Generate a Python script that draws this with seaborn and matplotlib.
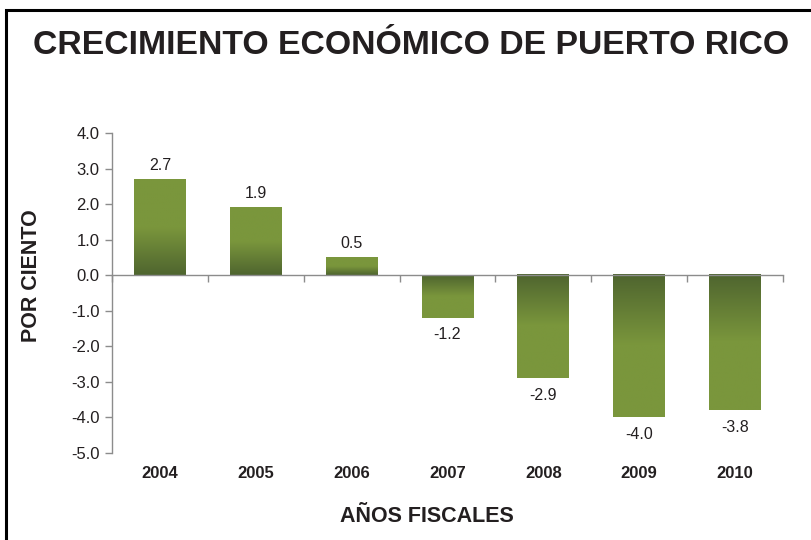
import numpy as np
import pandas as pd
import matplotlib.pyplot as plt
from matplotlib.patches import Rectangle
from matplotlib.colors import LinearSegmentedColormap
import seaborn as sns

years = ["2004", "2005", "2006", "2007", "2008", "2009", "2010"]
growth = [2.7, 1.9, 0.5, -1.2, -2.9, -4.0, -3.8]

lightGreen = "#7a963c"
darkGreen = "#4f652f"
textColor = "#231f20"
axisGray = "#8c8c8c"

sns.set_style("white")
plt.rcParams["font.family"] = ["Liberation Sans", "DejaVu Sans"]

dataFrame = pd.DataFrame({"Year": years, "Growth": growth})

fig = plt.figure(figsize=(8.12, 5.4), dpi=100)
ax = fig.add_axes([112 / 812, 1 - 453 / 540, (783 - 112) / 812, (453 - 133) / 540])

sns.barplot(data=dataFrame, x="Year", y="Growth", color=lightGreen, width=0.54, ax=ax)

# gradient fill: dark at the zero line, light from halfway to the bar end
cmap = LinearSegmentedColormap.from_list("bar", [darkGreen, lightGreen])
grad = np.concatenate([np.linspace(0, 1, 50), np.ones(50)]).reshape(-1, 1)
for patch in ax.patches:
    x0 = patch.get_x()
    x1 = x0 + patch.get_width()
    h = patch.get_height()
    img = grad if h >= 0 else grad[::-1]
    ax.imshow(img, cmap=cmap, aspect="auto", origin="lower",
              extent=(x0, x1, min(0, h), max(0, h)), zorder=2, interpolation="bilinear")
    patch.set_visible(False)

ax.set_ylim(-5, 4)
ax.set_xlim(-0.5, len(years) - 0.5)

for i, v in enumerate(growth):
    ax.annotate(f"{v:.1f}", (i, v), xytext=(0, 10 if v > 0 else -12), textcoords="offset points",
                ha="center", va="center", fontsize=11.5, color=textColor)

# spines
for side in ["top", "right"]:
    ax.spines[side].set_visible(False)
ax.spines["left"].set_color(axisGray)
ax.spines["left"].set_linewidth(1)
ax.spines["bottom"].set_position(("data", 0))
ax.spines["bottom"].set_color(axisGray)
ax.spines["bottom"].set_linewidth(1)

ax.set_yticks(np.arange(-5, 5, 1))
ax.set_yticklabels([f"{t:.1f}" for t in np.arange(-5, 5, 1)], fontsize=12, color=textColor)
ax.tick_params(axis="y", direction="out", length=5, width=1, color=axisGray, left=True, pad=4)

ax.set_xticks(np.arange(-0.5, len(years), 1))
ax.set_xticklabels([])
ax.tick_params(axis="x", direction="out", length=5, width=1, color=axisGray, bottom=True)

for i, yr in enumerate(years):
    ax.text(i, -0.0625, yr, transform=ax.get_xaxis_transform(), ha="center", va="center",
            fontsize=12, fontweight="bold", color=textColor)

ax.set_xlabel("")
ax.set_ylabel("")
fig.text(32 / 812, 1 - 276 / 540, "POR CIENTO", rotation=90, ha="center", va="center",
         fontsize=15.5, fontweight="bold", color=textColor)
fig.text(427 / 812, 1 - 517 / 540, "AÑOS FISCALES", ha="center", va="center",
         fontsize=15.5, fontweight="bold", color=textColor)
fig.text(411 / 812, 1 - 45 / 540, "CRECIMIENTO ECONÓMICO DE PUERTO RICO", ha="center", va="center",
         fontsize=24.3, fontweight="bold", color=textColor)

fig.patches.append(Rectangle((6 / 812, -0.05), 1.0, 1.05 - 10 / 540, transform=fig.transFigure,
                             fill=False, edgecolor="black", linewidth=2.2))

fig.savefig("out.png", dpi=100)
